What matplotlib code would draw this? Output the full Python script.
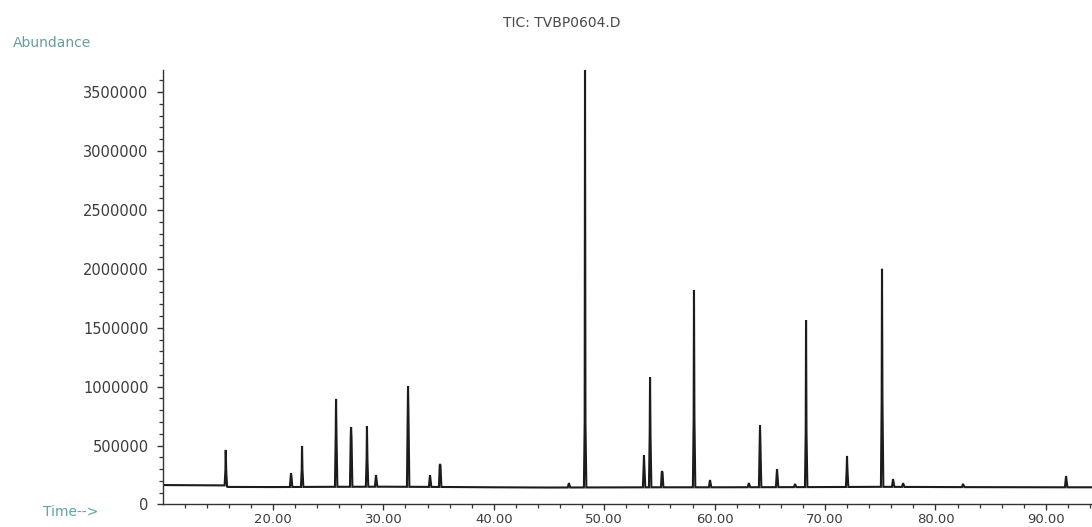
import numpy as np
import matplotlib
matplotlib.use("Agg")
import matplotlib.pyplot as plt
from matplotlib.ticker import MultipleLocator, FuncFormatter

# Baseline of the total ion chromatogram (time in min, abundance)
base_time = [10.0, 15.6, 15.9, 20.0, 25.0, 30.0, 35.0, 40.0, 45.0, 50.0,
             55.0, 60.0, 65.0, 70.0, 75.0, 80.0, 85.0, 90.0, 94.2]
base_level = [165000, 163000, 149000, 148000, 150000, 151000, 149000, 146000, 144000, 145000,
              146000, 146000, 147000, 148000, 150000, 148000, 147000, 146000, 146000]

# Peaks: retention time, apex abundance, shoulder abundance (nan = none)
peak_rt = [15.72, 21.63, 22.63, 25.71, 27.07, 28.51, 29.33, 32.23, 34.22, 35.13,
           46.80, 48.26, 53.60, 54.15, 55.24, 58.13, 59.58, 63.10, 64.11, 65.65,
           67.28, 68.28, 71.99, 75.16, 76.16, 77.07, 82.50, 91.83]
peak_height = [463000, 267000, 497000, 896000, 658000, 666000, 250000, 1006000, 250000, 344000,
               182000, 3700000, 420000, 1082000, 284000, 1821000, 208000, 182000, 675000, 301000,
               174000, 1566000, 412000, 2000000, 216000, 182000, 174000, 242000]
peak_shoulder = [293000, 240000, 293000, 590000, 573000, 395000, np.nan, 760000, np.nan, 330000,
                 np.nan, 692000, 318000, 607000, 270000, 734000, np.nan, np.nan, 488000, np.nan,
                 np.nan, 615000, 293000, 887000, np.nan, np.nan, np.nan, np.nan]

y_major = [0, 500000, 1000000, 1500000, 2000000, 2500000, 3000000, 3500000]
x_major = [20, 30, 40, 50, 60, 70, 80, 90]

# Assemble the trace: baseline vertices plus a narrow spike for each peak
t_pts = list(base_time)
a_pts = list(base_level)
for rt, h, sh in zip(peak_rt, peak_height, peak_shoulder):
    foot_l = float(np.interp(rt - 0.10, base_time, base_level))
    foot_r = float(np.interp(rt + 0.12, base_time, base_level))
    t_pts += [rt - 0.10, rt, rt + 0.12]
    a_pts += [foot_l, h, foot_r]
    if not np.isnan(sh):
        t_pts += [rt - 0.03, rt + 0.04]
        a_pts += [sh, sh]
order = np.argsort(t_pts, kind="stable")
trace_t = np.asarray(t_pts)[order]
trace_a = np.asarray(a_pts)[order]

fig = plt.figure(figsize=(10.92, 5.27), dpi=100)
ax = fig.add_axes([0.1493, 0.0427, 0.8507, 0.8245])
ax.plot(trace_t, trace_a, color="#1c1c1c", lw=1.5, solid_joinstyle="miter")

ax.set_xlim(10.04, 94.18)
ax.set_ylim(0, 3688000)

for side in ("top", "right"):
    ax.spines[side].set_visible(False)
for side in ("left", "bottom"):
    ax.spines[side].set_color("#333333")
    ax.spines[side].set_linewidth(1.0)

ax.xaxis.set_major_locator(plt.FixedLocator(x_major))
ax.xaxis.set_minor_locator(MultipleLocator(2))
ax.yaxis.set_major_locator(plt.FixedLocator(y_major))
ax.yaxis.set_minor_locator(MultipleLocator(100000))
ax.xaxis.set_major_formatter(FuncFormatter(lambda v, p: f"{v:.2f}"))
ax.yaxis.set_major_formatter(FuncFormatter(lambda v, p: f"{int(v)}"))

ax.tick_params(axis="both", which="major", direction="out", length=4.5, width=1.0,
               color="#333333", labelcolor="#3c3c3c", labelsize=10.5)
ax.tick_params(axis="both", which="minor", direction="out", length=3, width=0.9,
               color="#333333")
ax.tick_params(axis="y", which="major", pad=6)
ax.tick_params(axis="x", which="major", pad=1.5, labelsize=9.5)

fig.text(562 / 1092, 1 - 23 / 527, "TIC: TVBP0604.D", ha="center", va="center",
         fontsize=10, color="#4a4a4a")
fig.text(13 / 1092, 1 - 43 / 527, "Abundance", ha="left", va="center",
         fontsize=10, color="#6a9c9c")
fig.text(43 / 1092, 1 - 512 / 527, "Time-->", ha="left", va="center",
         fontsize=10, color="#58a6a6")

fig.savefig("out.png", dpi=100, facecolor="white")
